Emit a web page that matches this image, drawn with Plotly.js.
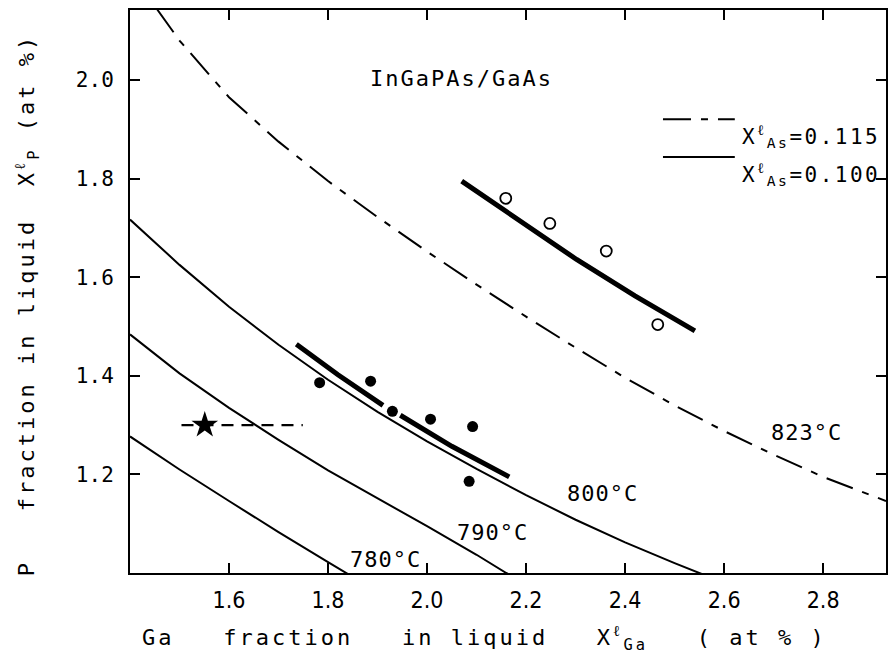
<!DOCTYPE html>
<html>
<head>
<meta charset="utf-8">
<script src="https://cdn.plot.ly/plotly-3.0.1.min.js"></script>
<style>
  html, body { margin: 0; padding: 0; background: #ffffff; }
  #chart { width: 891px; height: 663px; }
</style>
</head>
<body>
<div id="chart"></div>
<script>
// Liquidus isotherms for InGaPAs on GaAs (P vs Ga fraction in the melt)
const iso823X = [1.455, 1.5, 1.6, 1.7, 1.8, 1.9, 2.0, 2.1, 2.2, 2.3, 2.4, 2.5, 2.6, 2.7, 2.8, 2.927];
const iso823Y = [2.143, 2.08, 1.965, 1.875, 1.795, 1.722, 1.652, 1.585, 1.52, 1.457, 1.396, 1.34, 1.288, 1.24, 1.195, 1.146];

const iso800X = [1.4, 1.5, 1.6, 1.7, 1.8, 1.9, 2.0, 2.1, 2.2, 2.3, 2.4, 2.5, 2.6];
const iso800Y = [1.717, 1.625, 1.54, 1.463, 1.392, 1.327, 1.267, 1.211, 1.158, 1.108, 1.062, 1.02, 0.98];

const iso790X = [1.4, 1.5, 1.6, 1.7, 1.8, 1.9, 2.0, 2.1, 2.16, 2.2];
const iso790Y = [1.484, 1.405, 1.335, 1.27, 1.208, 1.152, 1.095, 1.037, 1.0, 0.978];

const iso780X = [1.4, 1.5, 1.6, 1.7, 1.8, 1.84, 1.9];
const iso780Y = [1.277, 1.21, 1.146, 1.083, 1.022, 0.998, 0.962];

// Fitted experimental trends (thick lines)
const fitUpperX = [2.07, 2.2, 2.302, 2.42, 2.541];
const fitUpperY = [1.795, 1.705, 1.636, 1.562, 1.491];
const fitLowerX = [1.736, 1.82, 1.911, null, 1.946, 2.05, 2.166];
const fitLowerY = [1.464, 1.402, 1.340, null, 1.320, 1.257, 1.195];

// Measured growth points
const openX = [2.159, 2.248, 2.362, 2.466];
const openY = [1.760, 1.709, 1.653, 1.504];
const filledX = [1.783, 1.886, 1.930, 2.007, 2.092, 2.085];
const filledY = [1.386, 1.389, 1.328, 1.312, 1.297, 1.186];

// Starred composition with its range
const starX = [1.551];
const starY = [1.30];
const starRangeX = [1.504, 1.749];
const starRangeY = [1.30, 1.30];

// Axis ticks
const xTickVals = [1.6, 1.8, 2.0, 2.2, 2.4, 2.6, 2.8];
const xTickText = ['1.6', '1.8', '2.0', '2.2', '2.4', '2.6', '2.8'];
const yTickVals = [1.2, 1.4, 1.6, 1.8, 2.0];
const yTickText = ['1.2', '1.4', '1.6', '1.8', '2.0'];

// Isotherm labels
const isoLabels = ['823°C', '800°C', '790°C', '780°C'];
const isoLabelX = [2.767, 2.355, 2.133, 1.917];
const isoLabelY = [1.284, 1.162, 1.083, 1.028];

const INK = '#000000';
const MONO = 'DejaVu Sans Mono, monospace';
const sp = (txt, px) => '<span style="letter-spacing:' + px + 'px">' + txt + '</span>';
const nb = n => '\u00a0'.repeat(n);

const traces = [
  { x: iso823X, y: iso823Y, mode: 'lines', line: { color: INK, width: 2, dash: '28px,10px,7px,10px' } },
  { x: iso800X, y: iso800Y, mode: 'lines', line: { color: INK, width: 2 } },
  { x: iso790X, y: iso790Y, mode: 'lines', line: { color: INK, width: 2 } },
  { x: iso780X, y: iso780Y, mode: 'lines', line: { color: INK, width: 2 } },
  { x: fitUpperX, y: fitUpperY, mode: 'lines', line: { color: INK, width: 5 } },
  { x: fitLowerX, y: fitLowerY, mode: 'lines', line: { color: INK, width: 5 }, connectgaps: false },
  { x: starRangeX, y: starRangeY, mode: 'lines', line: { color: INK, width: 2.2, dash: '12px,8px' } },
  { x: openX, y: openY, mode: 'markers',
    marker: { symbol: 'circle-open', size: 11, color: INK, line: { width: 1.8, color: INK } } },
  { x: filledX, y: filledY, mode: 'markers',
    marker: { symbol: 'circle', size: 11, color: INK } },
  { x: starX, y: starY, mode: 'markers',
    marker: { symbol: 'star', size: 20, color: INK } }
];

const annotations = isoLabels.map((t, i) => ({
  x: isoLabelX[i], y: isoLabelY[i], xref: 'x', yref: 'y',
  text: sp(t, 1), showarrow: false,
  font: { family: MONO, size: 22, color: INK }
}));

annotations.push(
  { x: 2.07, y: 2.004, xref: 'x', yref: 'y', showarrow: false,
    text: sp('InGaPAs/GaAs', 2), font: { family: MONO, size: 22, color: INK } },
  // legend entries
  { x: 0.8069, y: 0.806, xref: 'paper', yref: 'paper', xanchor: 'left', showarrow: false,
    text: sp('X<sup>ℓ</sup><sub>As</sub>=0.115', 2.5), font: { family: MONO, size: 21, color: INK } },
  { x: 0.8069, y: 0.739, xref: 'paper', yref: 'paper', xanchor: 'left', showarrow: false,
    text: sp('X<sup>ℓ</sup><sub>As</sub>=0.100', 2.5), font: { family: MONO, size: 21, color: INK } },
  // axis titles
  { x: 0.0132, y: -0.115, xref: 'paper', yref: 'paper', xanchor: 'left', yanchor: 'middle', showarrow: false,
    text: sp('Ga' + nb(3) + 'fraction' + nb(3) + 'in liquid' + nb(3) + 'X<sup>ℓ</sup><sub>Ga</sub>' + nb(3) + '( at % )', 3),
    font: { family: MONO, size: 22, color: INK } },
  { x: -0.136, y: 0.476, xref: 'paper', yref: 'paper', xanchor: 'center', yanchor: 'middle', showarrow: false,
    textangle: -90,
    text: sp('P' + nb(3) + 'fraction in liquid' + nb(2) + 'X<sup>ℓ</sup><sub>P</sub>' + nb(1) + '(at %)', 3),
    font: { family: MONO, size: 22, color: INK } }
);

const layout = {
  width: 891, height: 663,
  margin: { l: 130, r: 5, t: 10, b: 90 },
  paper_bgcolor: '#ffffff', plot_bgcolor: '#ffffff',
  showlegend: false,
  xaxis: {
    range: [1.4, 2.927], tickmode: 'array', tickvals: xTickVals, ticktext: xTickText,
    ticks: 'inside', ticklen: 10, tickwidth: 2, tickcolor: INK,
    showline: true, linewidth: 2, linecolor: INK, mirror: 'ticks',
    showgrid: false, zeroline: false, ticklabelstandoff: 5,
    tickfont: { family: 'Liberation Sans Narrow, DejaVu Sans Condensed, sans-serif', size: 23, color: INK }
  },
  yaxis: {
    range: [1.0, 2.142], tickmode: 'array', tickvals: yTickVals, ticktext: yTickText,
    ticks: 'inside', ticklen: 10, tickwidth: 2, tickcolor: INK,
    showline: true, linewidth: 2, linecolor: INK, mirror: 'ticks',
    showgrid: false, zeroline: false, ticklabelstandoff: 10,
    tickfont: { family: MONO, size: 21, color: INK }
  },
  shapes: [
    { type: 'line', xref: 'paper', yref: 'paper', x0: 0.705, x1: 0.800, y0: 0.806, y1: 0.806,
      line: { color: INK, width: 2, dash: '28px,10px,7px,10px' } },
    { type: 'line', xref: 'paper', yref: 'paper', x0: 0.705, x1: 0.800, y0: 0.739, y1: 0.739,
      line: { color: INK, width: 2 } }
  ],
  annotations: annotations
};

Plotly.newPlot('chart', traces, layout, { staticPlot: true, displayModeBar: false });
</script>
</body>
</html>
